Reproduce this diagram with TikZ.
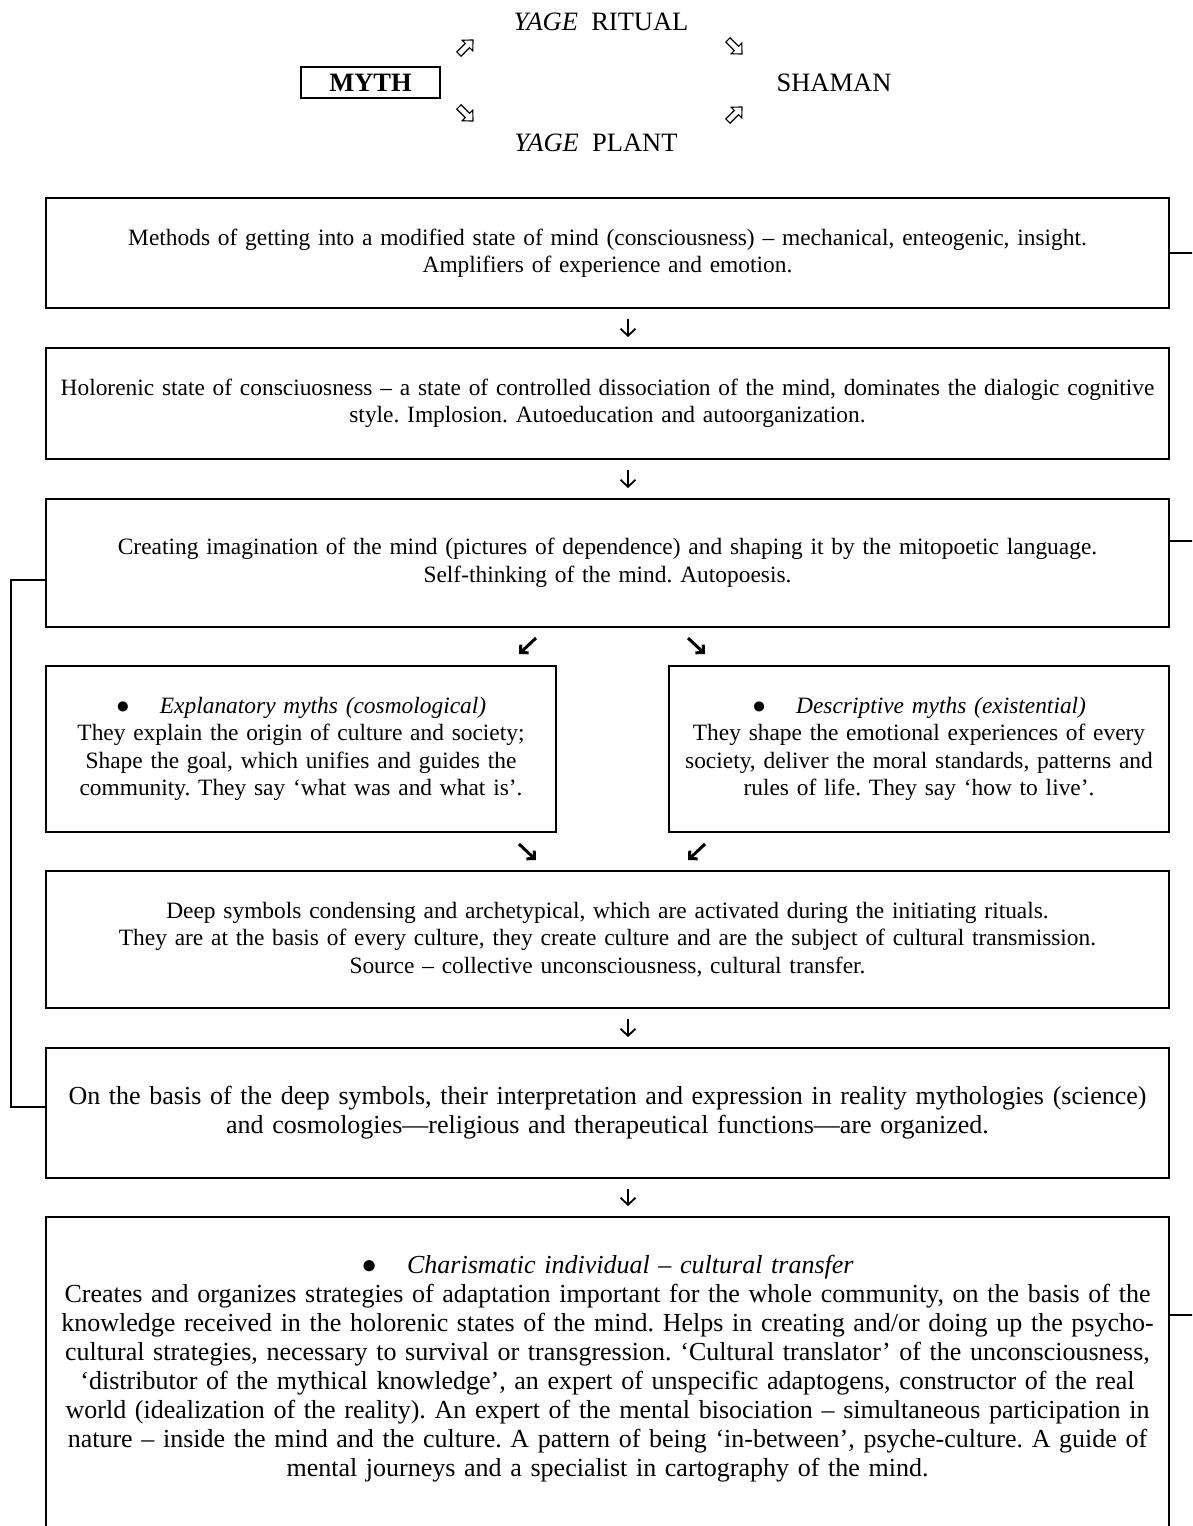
\documentclass[tikz,border=0pt]{standalone}
\usepackage{fontspec}
\setmainfont{Liberation Serif}
\usetikzlibrary{positioning,arrows.meta}
\frenchspacing

\newcommand{\smallfs}{\fontsize{23.4}{27.5}\selectfont}
\newcommand{\bigfs}{\fontsize{26}{29}\selectfont}
\newcommand{\topfs}{\fontsize{26.5}{30}\selectfont}
\newcommand{\blt}{●\hspace{30pt}}

\tikzset{
  box/.style={draw, line width=2pt, rectangle, inner sep=4pt, align=center, font=\smallfs},
  toptext/.style={font=\topfs, inner sep=0pt},
  hollowarrow/.pic={
    \draw[line width=1.1pt, fill=white] (-10,-3) -- (2,-3) -- (2,-7.5) -- (10,0)
      -- (2,7.5) -- (2,3) -- (-10,3) -- cycle;},
  downarrow/.style={-{Straight Barb[length=7pt, width=15pt, line width=1.8pt]},
    line width=1.8pt, shorten <=10pt, shorten >=10pt},
  diagarrow/.style={-{Straight Barb[angle=90:8pt, line width=3pt]}, line width=3pt},
  link/.style={line width=2pt}
}

\begin{document}
\begin{tikzpicture}[x=1pt, y=-1pt]
	% Page frame
	\useasboundingbox (0,0) rectangle (1192,1526);
	\clip (0,0) rectangle (1192,1526);

	% Define top nodes
	\node[toptext] (ritual) at (601,22) {\textit{YAGE}\ \ RITUAL};
	\node[draw, line width=2pt, minimum width=139pt, minimum height=31pt, inner sep=0pt,
		font={\topfs\bfseries}] (myth) at (370.5,82.5) {MYTH};
	\node[toptext] (shaman) at (834,82.5) {SHAMAN};
	\node[toptext] (plant) at (596,143) {\textit{YAGE}\ \ PLANT};

	\pic[rotate=45] at (466,47) {hollowarrow};
	\pic[rotate=-45] at (735,47) {hollowarrow};
	\pic[rotate=-45] at (466,114) {hollowarrow};
	\pic[rotate=45] at (735,114) {hollowarrow};

	% Define boxes
	\node[box, minimum width=1123pt, minimum height=110pt, text width=1110pt] (m1) at (607.5,253)
		{Methods of getting into a modified state of mind (consciousness) – mechanical, enteogenic, insight.\\
		Amplifiers of experience and emotion.};
	\node[box, minimum width=1123pt, minimum height=111pt, text width=1110pt] (m2) at (607.5,403.5)
		{Holorenic state of consciuosness – a state of controlled dissociation of the mind, dominates the dialogic cognitive\\
		style. Implosion. Autoeducation and autoorganization.};
	\node[box, minimum width=1123pt, minimum height=128pt, text width=1110pt] (m3) at (607.5,563)
		{Creating imagination of the mind (pictures of dependence) and shaping it by the mitopoetic language.\\
		Self-thinking of the mind. Autopoesis.};
	\node[box, minimum width=510pt, minimum height=166pt, text width=500pt] (ml) at (301,749)
		{\blt\textit{Explanatory myths (cosmological)}\\
		They explain the origin of culture and society;\\
		Shape the goal, which unifies and guides the\\
		community. They say ‘what was and what is’.};
	\node[box, minimum width=500pt, minimum height=166pt, text width=490pt] (mr) at (919,749)
		{\blt\textit{Descriptive myths (existential)}\\
		They shape the emotional experiences of every\\
		society, deliver the moral standards, patterns and\\
		rules of life. They say ‘how to live’.};
	\node[box, minimum width=1123pt, minimum height=137pt, text width=1110pt] (m5) at (607.5,939.5)
		{Deep symbols condensing and archetypical, which are activated during the initiating rituals.\\
		They are at the basis of every culture, they create culture and are the subject of cultural transmission.\\
		Source – collective unconsciousness, cultural transfer.};
	\node[box, font=\bigfs, minimum width=1123pt, minimum height=130pt, text width=1115pt] (m6) at (607.5,1113)
		{On the basis of the deep symbols, their interpretation and expression in reality mythologies (science)\\
		and cosmologies—religious and therapeutical functions—are organized.};
	\node[box, minimum width=1123pt, minimum height=343pt] (m7) at (607.5,1388.5) {};
	\node[font=\bigfs, align=center, text width=1119pt, inner sep=0pt, below=39pt of m7.north] (t7)
		{\blt\textit{Charismatic individual – cultural transfer}\\
		Creates and organizes strategies of adaptation important for the whole community, on the basis of the\\
		knowledge received in the holorenic states of the mind. Helps in creating and/or doing up the psycho-\\
		cultural strategies, necessary to survival or transgression. ‘Cultural translator’ of the unconsciousness,\\
		‘distributor of the mythical knowledge’, an expert of unspecific adaptogens, constructor of the real\\
		world (idealization of the reality). An expert of the mental bisociation – simultaneous participation in\\
		nature – inside the mind and the culture. A pattern of being ‘in-between’, psyche-culture. A guide of\\
		mental journeys and a specialist in cartography of the mind.};

	% Draw down arrows
	\draw[downarrow] ([xshift=20.5pt]m1.south) -- ([xshift=20.5pt]m2.north);
	\draw[downarrow] ([xshift=20.5pt]m2.south) -- ([xshift=20.5pt]m3.north);
	\draw[downarrow] ([xshift=20.5pt]m5.south) -- ([xshift=20.5pt]m6.north);
	\draw[downarrow] ([xshift=20.5pt]m6.south) -- ([xshift=20.5pt]m7.north);

	% Draw split and merge arrows
	\draw[diagarrow] ([xshift=-71.5pt, yshift=-10pt]m3.south) -- ([xshift=-38pt, yshift=11pt]ml.north east);
	\draw[diagarrow] ([xshift=80.5pt, yshift=-10pt]m3.south) -- ([xshift=37pt, yshift=11pt]mr.north west);
	\draw[diagarrow] ([xshift=-38pt, yshift=-11pt]ml.south east) -- ([xshift=-71.5pt, yshift=10pt]m5.north);
	\draw[diagarrow] ([xshift=37pt, yshift=-11pt]mr.south west) -- ([xshift=80.5pt, yshift=10pt]m5.north);

	% Draw side links
	\draw[link] ([yshift=-17pt]m3.west) -- ++(-34,0) |- ([yshift=6.5pt]m6.west);
	\draw[link] (m1.east) -- ++(30,0);
	\draw[link] ([yshift=22pt]m3.east) -- ++(30,0);
	\draw[link] ([yshift=73.5pt]m7.east) -- ++(30,0);

\end{tikzpicture}
\end{document}
